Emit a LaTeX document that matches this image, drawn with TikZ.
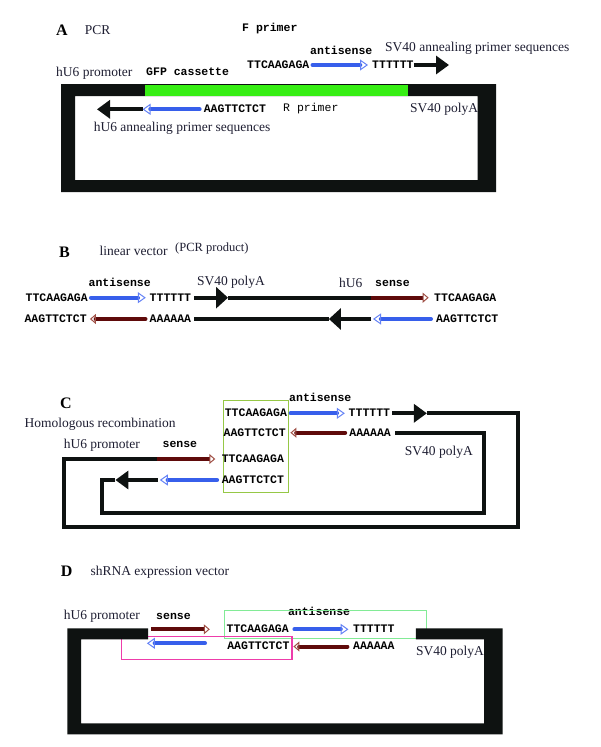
\documentclass[tikz,border=0pt]{standalone}
\usepackage{fontspec}
\setmainfont{Liberation Serif}
\newfontfamily\seqfont{Liberation Mono}
\usepackage{tikz}
\usetikzlibrary{arrows.meta}

\definecolor{seqblue}{RGB}{55,95,235}
\definecolor{tipblue}{RGB}{100,130,245}
\definecolor{seqred}{RGB}{95,10,10}
\definecolor{tipred}{RGB}{160,80,70}
\definecolor{frameblk}{RGB}{14,18,17}
\definecolor{gfpgreen}{RGB}{55,238,20}
\definecolor{boxolive}{RGB}{150,200,70}
\definecolor{boxmint}{RGB}{130,235,150}
\definecolor{boxpink}{RGB}{238,60,170}
\definecolor{txtnavy}{RGB}{30,30,50}

\tikzset{
  blueTip/.tip={Triangle[open, length=8pt, width=11pt, line width=1pt, color=tipblue]},
  redTip/.tip={Triangle[open, length=6pt, width=10pt, line width=1pt, color=tipred]},
  bigTip/.tip={Triangle[length=13pt, width=18pt]},
  bigTipB/.tip={Triangle[length=12pt, width=21pt]},
  lbl/.style={font=\fontsize{13.5}{14}\selectfont, text=txtnavy, anchor=west, inner sep=0pt, text height=9pt, text depth=0pt},
  seq/.style={font=\seqfont\bfseries\fontsize{11.5}{12}\selectfont, anchor=west, inner sep=0pt, text height=6.8pt, text depth=0pt},
  mono/.style={font=\seqfont\fontsize{11.5}{12}\selectfont, anchor=west, inner sep=0pt, text height=6.8pt, text depth=0pt},
  letter/.style={font=\bfseries\fontsize{16}{17}\selectfont, anchor=west, inner sep=0pt, text height=10.5pt, text depth=0pt},
  bl/.style={draw=seqblue, line width=4pt, line cap=round},
  rd/.style={draw=seqred, line width=4pt, line cap=round},
  blk/.style={draw=frameblk, line width=4pt, line join=miter},
  frm/.style={fill=frameblk}
}

\begin{document}
\begin{tikzpicture}[x=1pt, y=-1pt]
  \useasboundingbox (0,0) rectangle (600,747);

  % ---- A: PCR
  \node[letter] (labA) at (56,30) {A};
  \node[lbl] (aPcr) at (84.6,30) {PCR};
  \node[seq] (aFpr) at (242,28.3) {F primer};
  \node[seq] (aAs) at (310,50.7) {antisense};
  \node[lbl] (aSv) at (385,46.7) {SV40 annealing primer sequences};
  \node[lbl] (aPro) at (56,71.7) {hU6 promoter};
  \node[seq] (aGfp) at (146,71.7) {GFP cassette};

  \fill[frm, even odd rule] (61,84) rectangle (496,192) (75,96) rectangle (477.5,180);
  \fill[gfpgreen] (145,85) rectangle (408,96);

  \node[seq] (aF1) at (247,65) {TTCAAGAGA};
  \node[seq] (aF2) at (372,65) {TTTTTT};
  \coordinate (aFe) at (449,65);
  \draw[bl, shorten <=3pt, shorten >=4pt, -{blueTip}] (aF1) -- (aF2);
  \draw[blk, -{bigTip}] (aF2) -- (aFe);

  \node[seq] (aR1) at (203.6,109.3) {AAGTTCTCT};
  \coordinate (aRm) at (142.5,109.3);
  \coordinate (aRe) at (97,109.3);
  \draw[bl, shorten <=4pt, -{blueTip}] (aR1) -- (aRm);
  \draw[blk, -{bigTip}] (aRm) -- (aRe);

  \node[mono] (aRpr) at (283,107.7) {R primer};
  \node[lbl] (aPA) at (410,107.7) {SV40 polyA};
  \node[lbl] (aAnn) at (93.6,127.3) {hU6 annealing primer sequences};

  % ---- B: linear vector
  \node[letter] (labB) at (58.8,252.3) {B};
  \node[lbl] (bLin) at (99.5,250.7) {linear vector};
  \node[lbl, font=\fontsize{12.5}{13}\selectfont] (bPcr) at (175,247.3) {(PCR product)};
  \node[seq] (bAs) at (88.4,282.7) {antisense};
  \node[lbl] (bPA) at (196.8,281) {SV40 polyA};
  \node[lbl] (bU6) at (338.9,283.3) {hU6};
  \node[seq] (bSe) at (375,282.7) {sense};

  \node[seq] (bT1) at (25.5,297.7) {TTCAAGAGA};
  \node[seq] (bT2) at (149.5,297.7) {TTTTTT};
  \coordinate (bTa) at (228,297.7);
  \coordinate (bTj) at (370.7,297.7);
  \node[seq] (bT3) at (434,297.7) {TTCAAGAGA};
  \draw[bl, shorten <=3pt, shorten >=3.7pt, -{blueTip}] (bT1) -- (bT2);
  \draw[blk, shorten <=3pt, -{bigTipB}] (bT2) -- (bTa);
  \draw[blk] (bTa) -- (bTj);
  \draw[rd, line cap=butt, shorten >=5.3pt, -{redTip}] (bTj) -- (bT3);

  \node[seq] (bB1) at (24.4,319) {AAGTTCTCT};
  \node[seq] (bB2) at (149.5,319) {AAAAAA};
  \coordinate (bBa) at (328.9,319);
  \coordinate (bBj) at (371.4,319);
  \node[seq] (bB3) at (436,319) {AAGTTCTCT};
  \draw[rd, shorten <=4pt, shorten >=3pt, -{redTip}] (bB2) -- (bB1);
  \draw[blk, -{bigTipB}] (bBj) -- (bBa);
  \draw[blk, shorten >=3pt] (bBa) -- (bB2);
  \draw[bl, shorten <=5pt, shorten >=1.6pt, -{blueTip}] (bB3) -- (bBj);

  % ---- C: homologous recombination
  \node[letter] (labC) at (60,403.3) {C};
  \node[lbl] (cHom) at (24.4,423.3) {Homologous recombination};
  \node[lbl] (cPro) at (63.6,444.3) {hU6 promoter};
  \node[seq] (cSe) at (162.4,444.3) {sense};
  \node[seq] (cAs) at (289,398.3) {antisense};
  \node[lbl] (cPA) at (404.7,451) {SV40 polyA};

  \draw[boxolive, line width=1pt] (223.4,400.7) rectangle (288.2,492.7);

  \node[seq] (c1a) at (224.6,413.3) {TTCAAGAGA};
  \node[seq] (c1b) at (348.5,413.3) {TTTTTT};
  \node[seq] (c2a) at (223.4,432.7) {AAGTTCTCT};
  \node[seq] (c2b) at (349.2,432.7) {AAAAAA};
  \node[seq] (c3a) at (221.6,459) {TTCAAGAGA};
  \node[seq] (c4a) at (221.6,480) {AAGTTCTCT};

  % outer loop
  \coordinate (c1h) at (426.9,413.3);
  \coordinate (c1j) at (156.9,459);
  \draw[bl, shorten <=3.5pt, shorten >=3.7pt, -{blueTip}] (c1a) -- (c1b);
  \draw[blk, shorten <=2pt, -{bigTip}] (c1b) -- (c1h);
  \draw[blk] (c1h) -- (517.5,413.3) |- (63.6,526.7) |- (c1j);
  \draw[rd, line cap=butt, shorten >=6.3pt, -{redTip}] (c1j) -- (c3a);

  % inner loop
  \coordinate (c4h) at (115.4,480);
  \coordinate (c4j) at (157.6,480);
  \draw[rd, shorten <=4pt, shorten >=4.5pt, -{redTip}] (c2b) -- (c2a);
  \draw[bl, shorten <=4.5pt, shorten >=2.2pt, -{blueTip}] (c4a) -- (c4j);
  \draw[blk, -{bigTip}] (c4j) -- (c4h);
  \draw[blk, shorten >=3.7pt] (c4h) -- (102.1,480) |- (484.2,513.3) |- (c2b);

  % ---- D: shRNA expression vector
  \node[letter] (labD) at (60.7,571.7) {D};
  \node[lbl] (dTit) at (90.3,571) {shRNA expression vector};
  \node[lbl] (dPro) at (63.6,615) {hU6 promoter};
  \node[seq] (dSe) at (156,615.7) {sense};
  \node[seq] (dAs) at (287.8,611.7) {antisense};

  \draw[boxmint, line width=1pt] (224.2,610.7) rectangle (426.2,638.3);
  \draw[boxpink, line width=1.3pt] (121.7,636.3) rectangle (291.9,659.7);
  \fill[frm] (67.3,628.3) -- (148,628.3) -- (148,639.3) -- (81,639.3) -- (81,723.3)
    -- (484.2,723.3) -- (484.2,639.3) -- (415.8,639.3) -- (415.8,628.3)
    -- (502.7,628.3) -- (502.7,734.3) -- (67.3,734.3) -- cycle;

  \coordinate (d1s) at (151.3,629.3);
  \node[seq] (d1a) at (226.4,629.3) {TTCAAGAGA};
  \node[seq] (d1b) at (352.9,629.3) {TTTTTT};
  \draw[rd, line cap=butt, shorten >=16.6pt, -{redTip}] (d1s) -- (d1a);
  \draw[bl, shorten <=5.5pt, shorten >=4.4pt, -{blueTip}] (d1a) -- (d1b);

  \coordinate (d2s) at (205,643.3);
  \coordinate (d2t) at (146.9,643.3);
  \node[seq] (d2a) at (227.1,646.5) {AAGTTCTCT};
  \node[seq] (d2b) at (352.9,646.5) {AAAAAA};
  \draw[bl, -{blueTip}] (d2s) -- (d2t);
  \draw[rd, shorten <=5.5pt, shorten >=3.8pt, -{redTip}] (d2b) -- (d2a);

  \node[lbl] (dPA) at (415.8,651) {SV40 polyA};
\end{tikzpicture}
\end{document}
